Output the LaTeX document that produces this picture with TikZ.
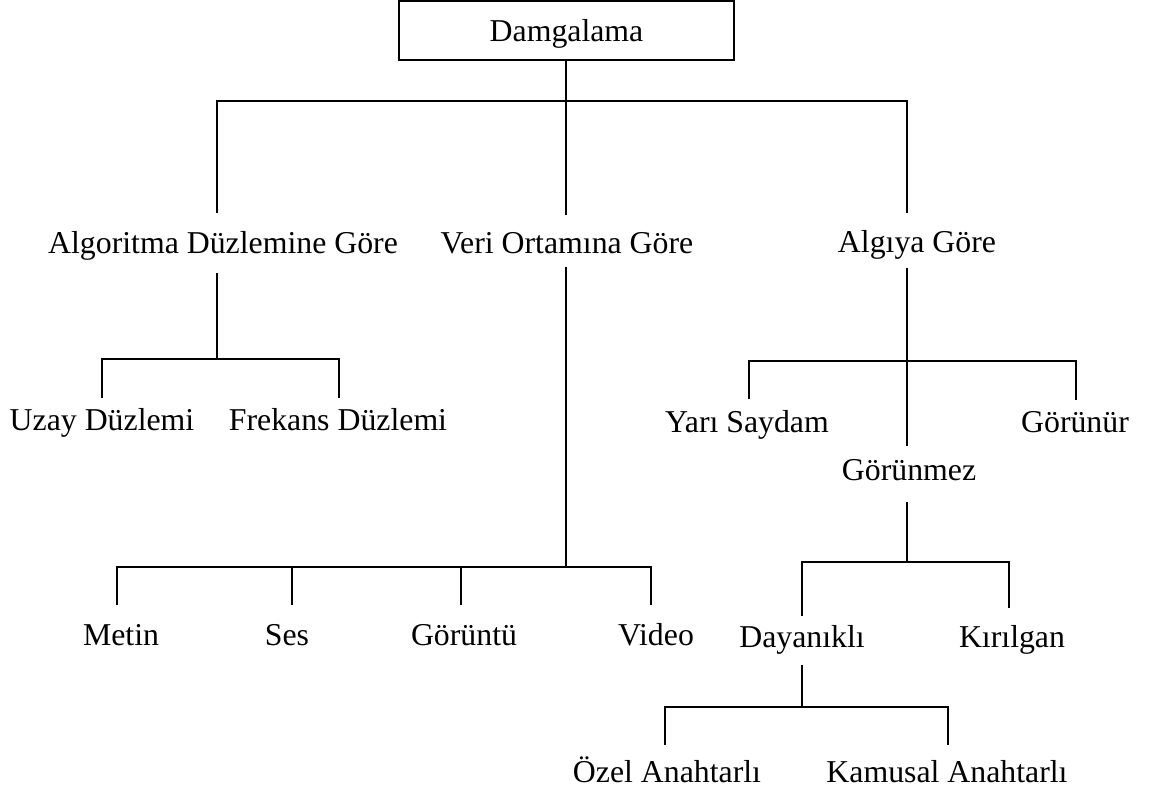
\documentclass[tikz,border=0pt]{standalone}
\usepackage{fontspec}
\setmainfont{Liberation Serif}
\begin{document}
\begin{tikzpicture}[x=0.5pt,y=-0.5pt,
  lbl/.style={anchor=base, inner sep=0pt, font=\fontsize{15.9}{19}\selectfont},
  link/.style={line width=0.9pt},
  rootbox/.style={draw, line width=0.9pt, inner sep=0pt,
    minimum width=167.5pt, minimum height=29.5pt,
    text height=14pt, text depth=2.5pt,
    font=\fontsize{15.9}{19}\selectfont}]
\useasboundingbox (0,0) rectangle (1161,796);

% root
\node[rootbox] (root) at (566.5,30.5) {Damgalama};

% first level
\node[lbl] (algo) at (223,254) {Algoritma Düzlemine Göre};
\node[lbl] (veri) at (567,254) {Veri Ortamına Göre};
\node[lbl] (algi) at (917,253) {Algıya Göre};

% second level
\node[lbl] (uzay) at (102,430) {Uzay Düzlemi};
\node[lbl] (frek) at (338,430) {Frekans Düzlemi};
\node[lbl] (yari) at (747,432) {Yarı Saydam};
\node[lbl] (gorunur) at (1075,432) {Görünür};
\node[lbl] (gorunmez) at (909,480) {Görünmez};
\node[lbl] (metin) at (121,645) {Metin};
\node[lbl] (ses) at (287,645) {Ses};
\node[lbl] (goruntu) at (464,645) {Görüntü};
\node[lbl] (video) at (656,645) {Video};
\node[lbl] (dayanikli) at (802,647) {Dayanıklı};
\node[lbl] (kirilgan) at (1012,647) {Kırılgan};
\node[lbl] (ozel) at (667,782) {Özel Anahtarlı};
\node[lbl] (kamusal) at (947,782) {Kamusal Anahtarlı};

% connector end points
\coordinate (bus0) at (566,101);
\coordinate (algo-in) at (217,213);
\coordinate (veri-in) at (566,215);
\coordinate (algi-in) at (907,213);

\coordinate (algo-out) at (217,273);
\coordinate (bus1) at (217,359);
\coordinate (uzay-in) at (102,398);
\coordinate (frek-in) at (339,398);

\coordinate (veri-out) at (566,267);
\coordinate (bus2) at (566,567);
\coordinate (metin-in) at (117,605);
\coordinate (ses-in) at (292,605);
\coordinate (goruntu-in) at (461,605);
\coordinate (video-in) at (651,605);

\coordinate (algi-out) at (907,268);
\coordinate (bus3) at (907,361);
\coordinate (yari-in) at (749,399);
\coordinate (gorunur-in) at (1076,400);
\coordinate (gorunmez-in) at (907,446);

\coordinate (gorunmez-out) at (907,502);
\coordinate (bus4) at (907,562);
\coordinate (dayanikli-in) at (802,616);
\coordinate (kirilgan-in) at (1009,608);

\coordinate (dayanikli-out) at (802,665);
\coordinate (bus5) at (802,707);
\coordinate (ozel-in) at (665,745);
\coordinate (kamusal-in) at (948,745);

% root to first level
\draw[link] (veri-in |- root.south) -- (veri-in);
\draw[link] (algo-in) -- (algo-in |- bus0) -- (algi-in |- bus0) -- (algi-in);

% Algoritma branch
\draw[link] (algo-out) -- (bus1);
\draw[link] (uzay-in) -- (uzay-in |- bus1) -- (frek-in |- bus1) -- (frek-in);

% Veri branch
\draw[link] (veri-out) -- (bus2);
\draw[link] (metin-in) -- (metin-in |- bus2) -- (video-in |- bus2) -- (video-in);
\draw[link] (ses-in |- bus2) -- (ses-in);
\draw[link] (goruntu-in |- bus2) -- (goruntu-in);

% Algı branch
\draw[link] (algi-out) -- (gorunmez-in);
\draw[link] (yari-in) -- (yari-in |- bus3) -- (gorunur-in |- bus3) -- (gorunur-in);

% Görünmez branch
\draw[link] (gorunmez-out) -- (bus4);
\draw[link] (dayanikli-in) -- (dayanikli-in |- bus4) -- (kirilgan-in |- bus4) -- (kirilgan-in);

% Dayanıklı branch
\draw[link] (dayanikli-out) -- (bus5);
\draw[link] (ozel-in) -- (ozel-in |- bus5) -- (kamusal-in |- bus5) -- (kamusal-in);
\end{tikzpicture}
\end{document}
